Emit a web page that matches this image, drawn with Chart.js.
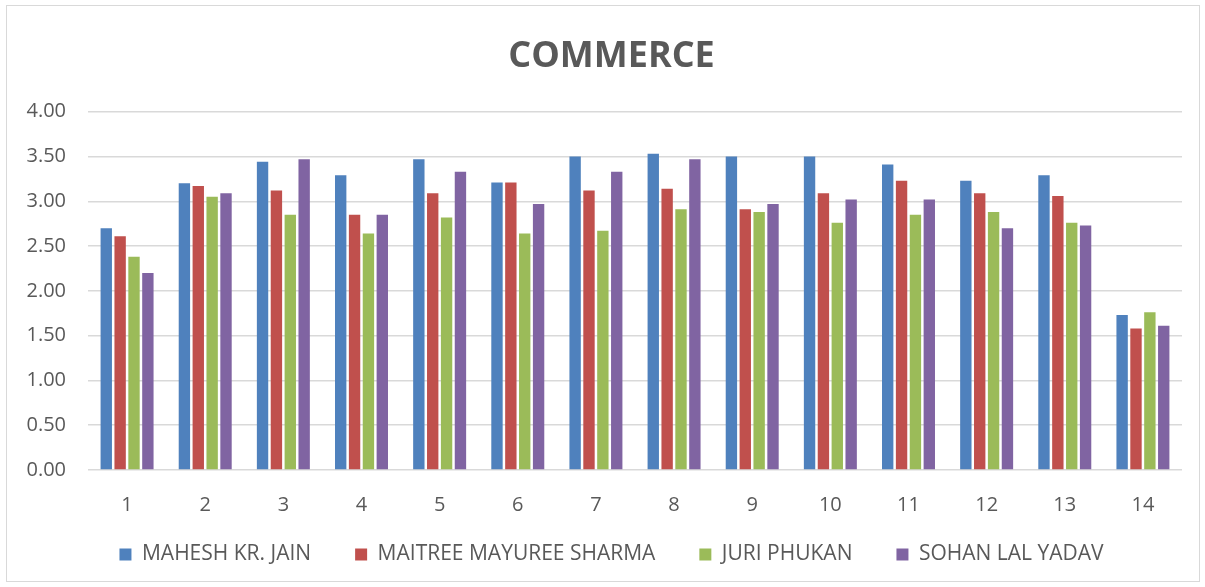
<!DOCTYPE html>
<html>
<head>
<meta charset="utf-8">
<script src="https://cdn.jsdelivr.net/npm/chart.js@4/dist/chart.umd.min.js"></script>
<style>
  html, body { margin: 0; padding: 0; background: #fff; }
  #wrap { position: absolute; left: 6px; top: 5px; width: 1194px; height: 577px; border: 1px solid #d9d9d9; box-sizing: border-box; overflow: hidden; }
  canvas { display: block; }
</style>
</head>
<body>
<div id="wrap"><canvas id="c" width="1192" height="575"></canvas></div>
<script>
const categories = ["1","2","3","4","5","6","7","8","9","10","11","12","13","14"];
const maheshKrJain = [2.70,3.20,3.44,3.29,3.47,3.21,3.50,3.53,3.50,3.50,3.41,3.23,3.29,1.73];
const maitreeMayureeSharma = [2.61,3.17,3.12,2.85,3.09,3.21,3.12,3.14,2.91,3.09,3.23,3.09,3.06,1.58];
const juriPhukan = [2.38,3.05,2.85,2.64,2.82,2.64,2.67,2.91,2.88,2.76,2.85,2.88,2.76,1.76];
const sohanLalYadav = [2.20,3.09,3.47,2.85,3.33,2.97,3.33,3.47,2.97,3.02,3.02,2.70,2.73,1.61];
const seriesNames = ["MAHESH KR. JAIN","MAITREE MAYUREE SHARMA","JURI PHUKAN","SOHAN LAL YADAV"];
const yTicks = [0,0.5,1,1.5,2,2.5,3,3.5,4];

const colors = ["#4F81BD","#C0504D","#9BBB59","#8064A2"];
const FONT = '"Open Sans", "Liberation Sans", sans-serif';
const data = [maheshKrJain, maitreeMayureeSharma, juriPhukan, sohanLalYadav];

const noLabelClip = {
  id: 'noLabelClip',
  beforeDraw(chart) {
    ['x', 'y'].forEach(id => {
      const s = chart.scales[id];
      if (s) s._computeLabelArea = () => undefined;
    });
  }
};

new Chart(document.getElementById('c'), {
  type: 'bar',
  plugins: [noLabelClip],
  data: {
    labels: categories,
    datasets: seriesNames.map((n, i) => ({
      label: n,
      data: data[i],
      backgroundColor: colors[i],
      borderWidth: 0,
      categoryPercentage: 0.71,
      barPercentage: 0.82
    }))
  },
  options: {
    responsive: false,
    animation: false,
    devicePixelRatio: 1,
    layout: { padding: { left: 34, right: 17, top: 0, bottom: 6 } },
    plugins: {
      title: {
        display: true,
        text: 'COMMERCE',
        color: '#595959',
        font: { family: FONT, size: 36, weight: 'bold', lineHeight: 1.2 },
        padding: { top: 29, bottom: 33.5 }
      },
      legend: {
        position: 'bottom',
        labels: {
          color: '#595959',
          font: { family: FONT, size: 21, lineHeight: 1.2 },
          boxWidth: 12,
          boxHeight: 12,
          padding: 44
        }
      },
      tooltip: { enabled: false }
    },
    scales: {
      x: {
        afterFit: (s) => { s.height = 30; },
        grid: { display: false, drawTicks: false },
        border: { display: false },
        ticks: { color: '#595959', font: { family: FONT, size: 20 }, padding: 23 }
      },
      y: {
        min: 0, max: 4,
        afterFit: (s) => { s.width = 47; },
        afterBuildTicks: (s) => { s.ticks = yTicks.map(v => ({ value: v })); },
        grid: { color: '#d9d9d9', lineWidth: 1.5, drawTicks: false },
        border: { display: false },
        ticks: {
          color: '#595959',
          font: { family: FONT, size: 20 },
          padding: 22,
          callback: (v) => Number(v).toFixed(2)
        }
      }
    }
  }
});
</script>
</body>
</html>
